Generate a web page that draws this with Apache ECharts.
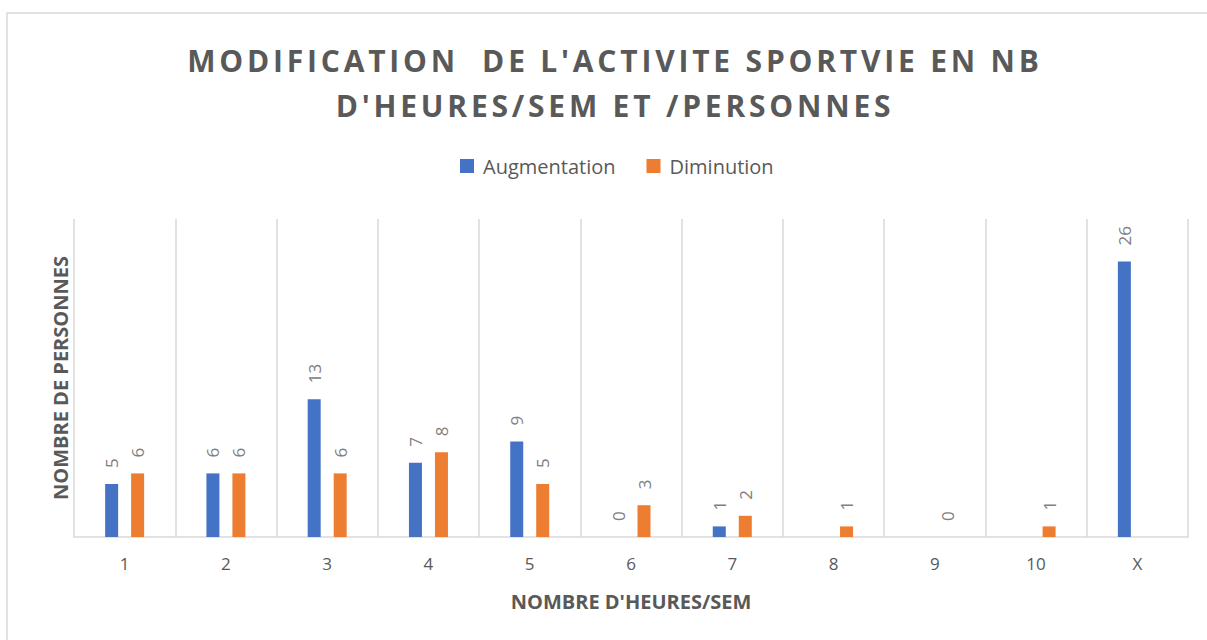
<!DOCTYPE html>
<html>
<head>
<meta charset="utf-8">
<script src="https://cdn.jsdelivr.net/npm/echarts@6/dist/echarts.min.js"></script>
<style>
  html, body { margin: 0; padding: 0; background: #fff; }
  #chart { width: 1207px; height: 640px; }
  /* espacement des lettres du titre (fontSize 30 n'est utilisé que par le titre) */
  #chart text[style*="30px"] { letter-spacing: 3.8px; }
</style>
</head>
<body>
<div id="chart"></div>
<script>
// heures / semaine
var categories = ['1', '2', '3', '4', '5', '6', '7', '8', '9', '10', 'X'];
var augmentation = [5, 6, 13, 7, 9, 0, 1, null, null, null, 26];
var diminution = [6, 6, 6, 8, 5, 3, 2, 1, 0, 1, null];

var chart = echarts.init(document.getElementById('chart'), null, { renderer: 'svg' });

var barLabel = {
  show: true,
  position: 'top',
  rotate: 90,
  align: 'left',
  verticalAlign: 'middle',
  distance: 16,
  color: '#808080',
  fontSize: 17,
  fontFamily: 'Open Sans'
};

var option = {
  backgroundColor: '#fff',
  color: ['#4472C4', '#ED7D31'],
  textStyle: { fontFamily: 'Open Sans' },
  graphic: [{
    type: 'rect',
    shape: { x: 7, y: 13, width: 1220, height: 660 },
    style: { fill: 'none', stroke: '#d9d9d9', lineWidth: 1.5 },
    silent: true
  }],
  title: {
    text: "MODIFICATION  DE L'ACTIVITE SPORTVIE EN NB\nD'HEURES/SEM ET /PERSONNES",
    left: 610,
    textAlign: 'center',
    top: 33,
    textStyle: {
      color: '#595959',
      fontSize: 30,
      fontWeight: 'bold',
      lineHeight: 45,
      fontFamily: 'Open Sans'
    }
  },
  legend: {
    top: 151,
    left: 455,
    itemWidth: 14,
    itemHeight: 14,
    itemGap: 31,
    icon: 'rect',
    textStyle: { color: '#595959', fontSize: 20, fontFamily: 'Open Sans', padding: [0, 0, 0, 4] },
    data: ['Augmentation', 'Diminution']
  },
  grid: {
    left: 74,
    right: 19,
    top: 219,
    bottom: 103
  },
  xAxis: {
    type: 'category',
    data: categories,
    name: "NOMBRE D'HEURES/SEM",
    nameLocation: 'middle',
    nameGap: 54,
    nameTextStyle: { color: '#595959', fontSize: 20, fontWeight: 'bold' },
    axisLine: { show: true, lineStyle: { color: '#d9d9d9', width: 1.5 } },
    axisTick: { show: false },
    axisLabel: { color: '#595959', fontSize: 17, margin: 18 },
    splitLine: { show: true, lineStyle: { color: '#d9d9d9', width: 1.5 } }
  },
  yAxis: {
    type: 'value',
    min: 0,
    max: 30,
    interval: 5,
    name: 'NOMBRE DE PERSONNES',
    nameLocation: 'middle',
    nameGap: 4,
    nameTextStyle: { color: '#595959', fontSize: 20, fontWeight: 'bold' },
    axisLine: { show: false },
    axisTick: { show: false },
    axisLabel: { show: false },
    splitLine: { show: false }
  },
  series: [{
    name: 'Augmentation',
    type: 'bar',
    data: augmentation,
    barWidth: 13,
    barGap: '100%',
    label: barLabel
  }, {
    name: 'Diminution',
    type: 'bar',
    data: diminution,
    barWidth: 13,
    barGap: '100%',
    label: barLabel
  }]
};

chart.setOption(option);
</script>
</body>
</html>
